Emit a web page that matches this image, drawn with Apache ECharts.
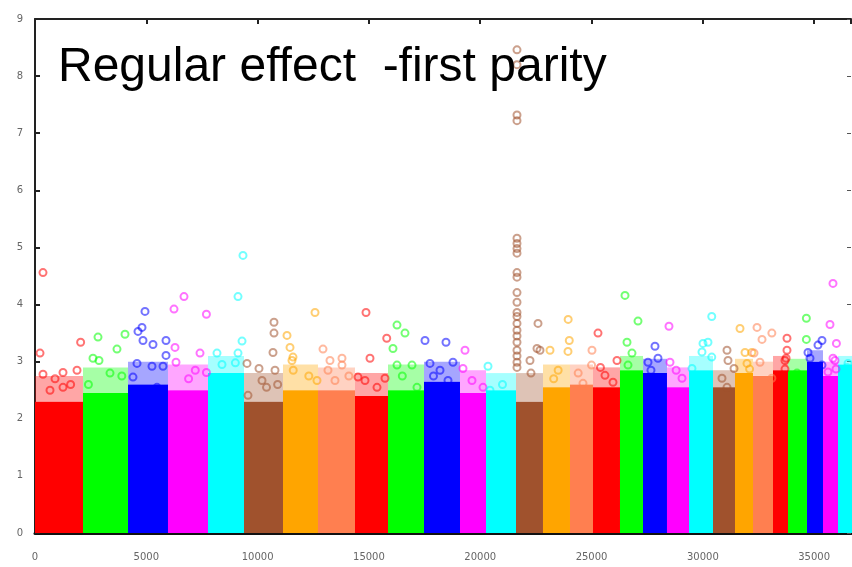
<!DOCTYPE html>
<html>
<head>
<meta charset="utf-8">
<script src="https://cdn.jsdelivr.net/npm/echarts@6/dist/echarts.min.js"></script>
<style>
  html, body { margin: 0; padding: 0; background: #fff; }
  #chart { width: 852px; height: 567px; }
</style>
</head>
<body>
<div id="chart"></div>
<script>
const title = 'Regular effect  -first parity'

// chromosome boundaries along the SNP index axis (30 edges -> 29 chromosomes)
const chromEdges = [0, 2156, 4178, 5974, 7771, 9388, 11140, 12712, 14374, 15857,
  17474, 19091, 20259, 21607, 22819, 24032, 25065, 26278, 27311, 28389,
  29378, 30456, 31444, 32253, 33151, 33825, 34678, 35397, 36071, 36700]

// height of the dense (solid) part of each chromosome's column
const bandTops = [2.3, 2.45, 2.6, 2.5, 2.8, 2.3, 2.5, 2.5, 2.4, 2.5,
  2.65, 2.45, 2.5, 2.3, 2.55, 2.6, 2.55, 2.85, 2.8, 2.55,
  2.85, 2.55, 2.8, 2.75, 2.85, 2.85, 3.0, 2.75, 2.95]

// where the thinning, speckled part above the dense band fades out
const speckTops = [2.75, 2.9, 3.0, 2.95, 3.1, 2.8, 2.95, 2.9, 2.8, 2.95,
  3.0, 2.85, 2.8, 2.8, 2.95, 2.95, 2.9, 3.1, 3.05, 2.9,
  3.1, 2.85, 3.05, 3.0, 3.1, 3.05, 3.2, 3.0, 3.1]

const palette = ['#ff0000', '#00ff00', '#0000ff', '#ff00ff', '#00ffff', '#a0522d', '#ffa500', '#ff7f50']

// individual SNPs standing above the dense band [index, -log10(p)]
const snps = [
  [359, 4.56], [225, 3.15], [359, 2.78], [1258, 2.81], [1887, 2.85], [2050, 3.34], [674, 2.5], [1258, 2.55], [1600, 2.6], [900, 2.7],
  [2830, 3.43], [2875, 3.02], [3683, 3.22], [4043, 3.48], [2605, 3.06], [3369, 2.8], [2400, 2.6], [3900, 2.75],
  [4941, 3.88], [4806, 3.6], [4627, 3.53], [4851, 3.37], [5300, 3.3], [5885, 3.37], [5885, 3.11], [4582, 2.97], [5256, 2.92], [5750, 2.92], [5480, 2.55], [4402, 2.73],
  [6693, 4.14], [6244, 3.92], [6289, 3.25], [6334, 2.99], [7412, 3.15], [7700, 3.83], [7700, 2.81], [6900, 2.7], [7200, 2.85],
  [9343, 4.86], [9119, 4.14], [9300, 3.36], [9119, 3.15], [8175, 3.15], [9000, 2.98], [8400, 2.95],
  [10736, 3.69], [10736, 3.5], [10691, 3.16], [9523, 2.97], [10062, 2.88], [10781, 2.85], [10197, 2.67], [9568, 2.41], [10400, 2.55], [10900, 2.6],
  [11320, 3.46], [11455, 3.25], [11589, 3.08], [12578, 3.86], [11544, 3.02], [12667, 2.67], [11600, 2.85], [12300, 2.75],
  [12937, 3.22], [13790, 3.06], [13251, 3.02], [13790, 2.94], [13161, 2.85], [13476, 2.67], [14100, 2.75],
  [14869, 3.86], [15048, 3.06], [15800, 3.41], [15722, 2.71], [14824, 2.67], [15363, 2.55], [14509, 2.73],
  [16261, 3.64], [16620, 3.5], [16081, 3.23], [16935, 2.94], [16261, 2.94], [17159, 2.55], [16500, 2.75],
  [17519, 3.37], [18462, 3.34], [17743, 2.97], [18776, 2.99], [18193, 2.85], [18552, 2.67], [17900, 2.75],
  [19316, 3.2], [19226, 2.88], [19630, 2.67], [20124, 2.55],
  [20349, 2.92], [20439, 2.5], [21000, 2.6],
  [21651, 8.46], [21651, 8.2], [21651, 7.32], [21651, 7.22], [21651, 5.16], [21651, 5.07], [21651, 4.98], [21651, 4.9],
  [21651, 4.56], [21651, 4.48], [21651, 4.21], [21651, 4.04], [21651, 3.86], [21651, 3.79], [21651, 3.67], [21651, 3.55],
  [21651, 3.45], [21651, 3.34], [21651, 3.2], [21651, 3.1], [21651, 2.99], [21651, 2.9],
  [22595, 3.67], [22685, 3.2], [22550, 3.23], [22235, 3.02], [22280, 2.8],
  [23950, 3.74], [24000, 3.37], [23942, 3.18], [23134, 3.2], [23500, 2.85], [23300, 2.7],
  [25020, 3.2], [25000, 2.94], [24616, 2.62], [24400, 2.8],
  [25290, 3.5], [26143, 3.02], [25604, 2.76], [25964, 2.64], [25400, 2.9],
  [26503, 4.16], [27087, 3.71], [26593, 3.34], [26817, 3.15], [26638, 2.94],
  [27850, 3.27], [27985, 3.06], [27536, 2.99], [27670, 2.85],
  [28479, 3.62], [28524, 2.99], [29064, 2.71], [28800, 2.85],
  [30400, 3.79], [30231, 3.34], [30007, 3.32], [30400, 3.08], [29961, 3.17], [29512, 2.88],
  [31085, 3.2], [31130, 3.02], [31400, 2.88], [30860, 2.71], [31085, 2.55],
  [31669, 3.58], [31894, 3.16], [32200, 3.16], [31983, 2.97], [32100, 2.87],
  [32433, 3.6], [33100, 3.5], [32658, 3.39], [32567, 2.99], [33100, 2.71], [32300, 3.15],
  [33780, 3.41], [33780, 3.2], [33690, 3.02], [33690, 2.87], [33740, 3.06],
  [34650, 3.76], [34650, 3.39], [34230, 2.8],
  [35352, 3.37], [35172, 3.29], [34723, 3.16], [34813, 3.06], [35352, 2.94], [35128, 2.87],
  [35846, 4.37], [35711, 3.65], [36000, 3.32], [35846, 3.06], [35621, 2.82], [35980, 2.87], [35935, 3.02],
  [36520, 2.97], [36430, 2.67], [36480, 2.9]
]

const xTicks = [0, 5000, 10000, 15000, 20000, 25000, 30000, 35000]
const yTicks = [0, 1, 2, 3, 4, 5, 6, 7, 8, 9]

function chromOf(x) {
  for (let i = 0; i < chromEdges.length - 1; i++) {
    if (x < chromEdges[i + 1]) return i
  }
  return chromEdges.length - 2
}

const bands = bandTops.map((top, i) => [chromEdges[i], chromEdges[i + 1], top, i, speckTops[i]])

const snpData = snps.map(p => ({
  value: p,
  itemStyle: { borderColor: palette[chromOf(p[0]) % palette.length] },
}))

const chart = echarts.init(document.getElementById('chart'), null, { renderer: 'canvas' })

const labelStyle = { color: '#666', fontFamily: 'DejaVu Sans', fontSize: 10 }
const xMax = 36655

chart.setOption({
  animation: false,
  backgroundColor: '#fff',
  grid: { left: 35, right: 1, top: 19, bottom: 34, containLabel: false },
  xAxis: [{
    type: 'value', min: 0, max: xMax, interval: 5000,
    axisLine: { show: true, onZero: false, lineStyle: { color: '#111', width: 3 } },
    axisTick: { show: false },
    splitLine: { show: false },
    axisLabel: Object.assign({ margin: 19, showMaxLabel: false,
      formatter: v => xTicks.indexOf(v) >= 0 ? String(v) : '' }, labelStyle),
  }, {
    type: 'value', min: 0, max: xMax, interval: 5000, position: 'top',
    axisLine: { show: true, onZero: false, lineStyle: { color: '#222', width: 2 } },
    axisTick: { show: true, inside: true, length: 5, lineStyle: { color: '#222', width: 2 } },
    axisLabel: { show: false },
    splitLine: { show: false },
  }],
  yAxis: [{
    type: 'value', min: 0, max: 9, interval: 1,
    axisLine: { show: true, onZero: false, lineStyle: { color: '#222', width: 2 } },
    axisTick: { show: true, inside: true, length: 5, lineStyle: { color: '#222', width: 2 } },
    splitLine: { show: false },
    axisLabel: Object.assign({ margin: 12,
      formatter: v => yTicks.indexOf(v) >= 0 ? String(v) : '' }, labelStyle),
  }, {
    type: 'value', min: 0, max: 9, interval: 1, position: 'right',
    axisLine: { show: false, onZero: false },
    axisTick: { show: true, inside: true, length: 4, lineStyle: { color: '#555', width: 1 } },
    axisLabel: { show: false },
    splitLine: { show: false },
  }],
  graphic: [{
    type: 'text', left: 58, top: 44, z: 100,
    style: { text: title, fill: '#000', font: '48px "Liberation Sans", Arial, sans-serif' },
  }],
  series: [{
    type: 'custom',
    xAxisIndex: 0, yAxisIndex: 0,
    data: bands,
    renderItem: (params, api) => {
      const p0 = api.coord([api.value(0), 0])
      const p1 = api.coord([api.value(1), api.value(2)])
      const p2 = api.coord([api.value(1), api.value(4)])
      const fill = palette[api.value(3) % palette.length]
      return {
        type: 'group',
        children: [{
          type: 'rect',
          shape: { x: p0[0], y: p2[1], width: p1[0] - p0[0], height: p1[1] - p2[1] },
          style: { fill: fill, opacity: 0.35 },
        }, {
          type: 'rect',
          shape: { x: p0[0], y: p1[1], width: p1[0] - p0[0], height: p0[1] - p1[1] },
          style: { fill: fill },
        }],
      }
    },
  }, {
    type: 'scatter',
    xAxisIndex: 0, yAxisIndex: 0,
    symbol: 'circle',
    symbolSize: 7,
    itemStyle: { color: 'rgba(255,255,255,0)', borderWidth: 2, opacity: 0.55 },
    data: snpData,
  }],
})
</script>
</body>
</html>
